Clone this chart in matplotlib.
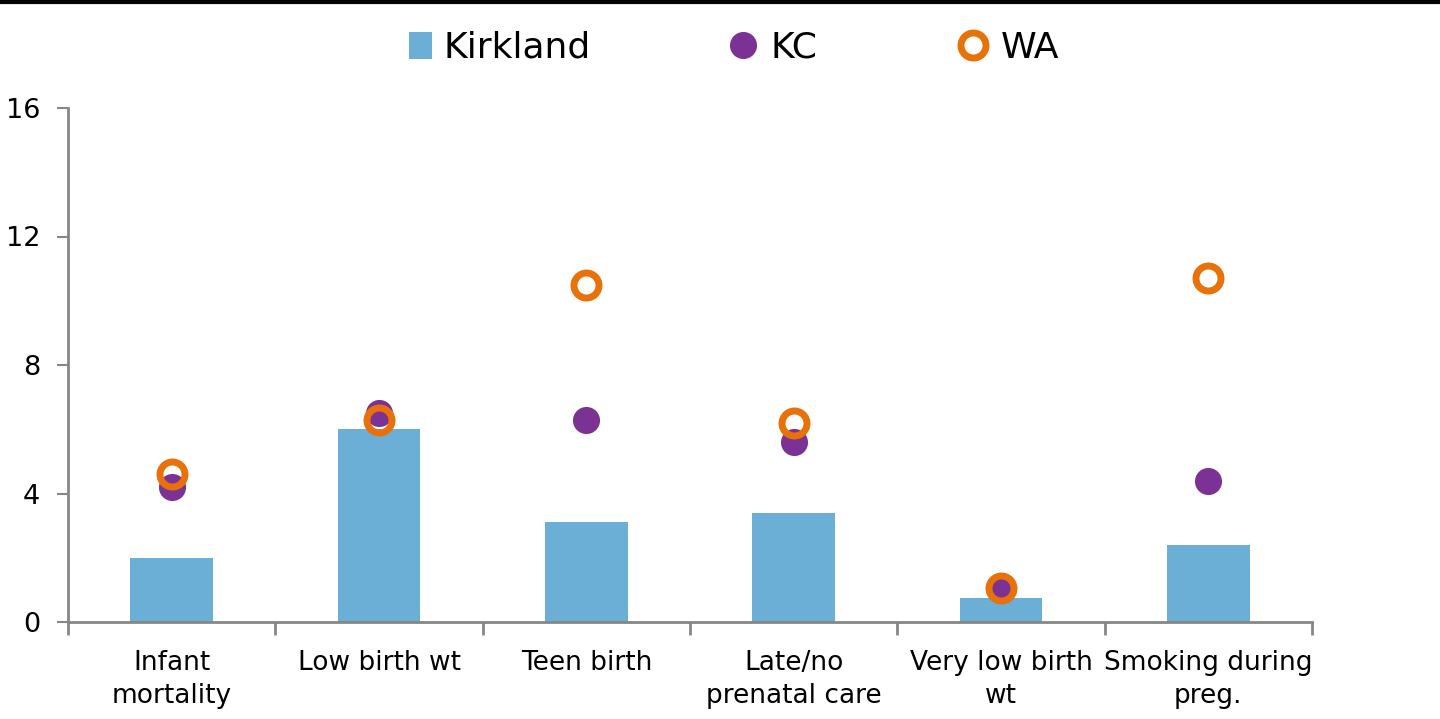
import matplotlib
matplotlib.use("Agg")
import matplotlib.pyplot as plt
import numpy as np
from matplotlib.lines import Line2D
from matplotlib.patches import Patch

categories = ["Infant\nmortality", "Low birth wt", "Teen birth", "Late/no\nprenatal care",
              "Very low birth\nwt", "Smoking during\npreg."]
kirkland = [2.0, 6.0, 3.1, 3.4, 0.75, 2.4]
kc = [4.2, 6.5, 6.3, 5.6, 1.0, 4.4]
wa = [4.6, 6.3, 10.5, 6.2, 1.05, 10.7]
yticks = [0, 4, 8, 12, 16]

bar_color = "#6BAED6"
kc_color = "#7B3294"
wa_color = "#E8710A"
axis_color = "#868686"

plt.rcParams['font.family'] = ['DejaVu Sans']

fig = plt.figure(figsize=(14.4, 7.19), dpi=100)
ax = fig.add_axes([68/1440, 1-622/719, (1312-68)/1440, (622-108)/719])

x = np.arange(len(categories))
ax.bar(x, kirkland, width=0.4, color=bar_color, zorder=2)
ax.plot(x, kc, linestyle='none', marker='o', markersize=19.5, color=kc_color,
        markeredgewidth=0, zorder=3)
ax.plot(x, wa, linestyle='none', marker='o', markersize=18, markerfacecolor='none',
        markeredgecolor=wa_color, markeredgewidth=5, zorder=4)

ax.set_xlim(-0.5, len(categories) - 0.5)
ax.set_ylim(0, 16)
ax.set_yticks(yticks)
ax.set_yticklabels([str(t) for t in yticks], fontsize=19.5)
ax.set_xticks(x)
ax.set_xticklabels(categories, fontsize=19, linespacing=1.35)
ax.tick_params(axis='x', which='major', length=0, pad=20)
ax.set_xticks(np.arange(-0.5, len(categories)), minor=True)
ax.tick_params(axis='x', which='minor', length=9, width=2, color=axis_color, direction='out')
ax.tick_params(axis='y', length=8, width=1.5, color=axis_color, direction='out', pad=12)
for s in ['top', 'right']:
    ax.spines[s].set_visible(False)
for s in ['left', 'bottom']:
    ax.spines[s].set_color(axis_color)
    ax.spines[s].set_linewidth(2)

handles = [
    Patch(facecolor=bar_color, edgecolor='none'),
    Line2D([], [], linestyle='none', marker='o', markersize=19.5, color=kc_color, markeredgewidth=0),
    Line2D([], [], linestyle='none', marker='o', markersize=18, markerfacecolor='none',
           markeredgecolor=wa_color, markeredgewidth=5),
]
labels = ["Kirkland", "KC", "WA"]
x_left = [409, 727, 957]
hlen = [0.65, 0.9, 0.9]
for h, lab, xl, hl in zip(handles, labels, x_left, hlen):
    fig.legend([h], [lab], loc='center left', bbox_to_anchor=(xl/1440, 1-48/719),
               frameon=False, fontsize=26, handlelength=hl, handleheight=0.8,
               handletextpad=0.3, borderpad=0, borderaxespad=0)

fig.add_artist(Line2D([0, 1], [1-1.5/719, 1-1.5/719], transform=fig.transFigure,
                      color='black', linewidth=3))

fig.savefig("out.png", dpi=100)
